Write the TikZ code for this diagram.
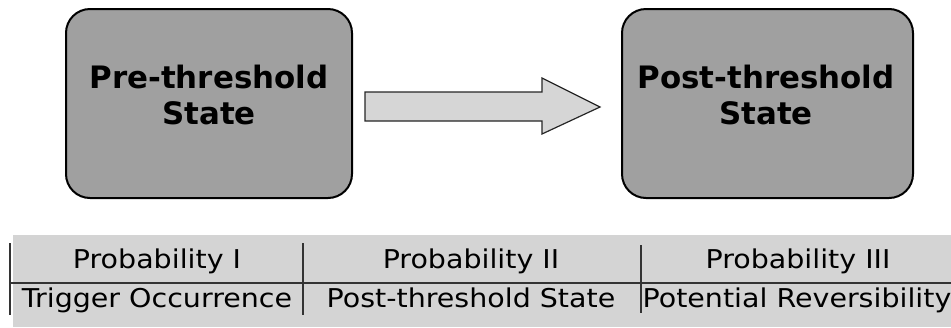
\documentclass[tikz,border=0pt]{standalone}
\usepackage{fontspec}
\setmainfont{DejaVu Sans}
\newfontfamily\cellfont[FakeStretch=1.1]{DejaVu Sans}
\begin{document}
\begin{tikzpicture}[x=1bp,y=-1bp,
  statebox/.style={draw=black, line width=2bp, rounded corners=24bp, fill=boxgray},
  statetext/.style={font=\fontsize{31}{37}\selectfont\bfseries, align=center, text=black},
  celltext/.style={font=\cellfont\fontsize{26}{30}\selectfont, text=black, anchor=base},
  rule/.style={draw=black!80, line width=1.2bp}]
\definecolor{boxgray}{RGB}{160,160,160}
\definecolor{tablegray}{RGB}{212,212,212}
\definecolor{arrowgray}{RGB}{214,214,214}
\useasboundingbox (0,0) rectangle (951,327);
% state boxes
\draw[statebox] (66,9) rectangle (352,198);
\draw[statebox] (622,9) rectangle (913,198);
\node[statetext] (pre) at (209,95) {Pre-threshold\\State};
\node[statetext] (post) at (766,95) {Post-threshold\\State};
% block arrow
\draw[fill=arrowgray, draw=black!85, line width=1.2bp]
  (365,92) -- (542,92) -- (542,78) -- (600,107) -- (542,134) -- (542,121) -- (365,121) -- cycle;
% table
\fill[tablegray] (13,235) rectangle (951,327);
\draw[rule] (10,243) -- (10,315);
\draw[rule] (303,243) -- (303,315);
\draw[rule] (641,245) -- (641,313);
\draw[rule] (10,283) -- (951,283);
\node[celltext] (p1) at (157,268) {Probability I};
\node[celltext] (p2) at (471,268) {Probability II};
\node[celltext] (p3) at (798,268) {Probability III};
\node[celltext] (d1) at (157,307) {Trigger Occurrence};
\node[celltext] (d2) at (471,307) {Post-threshold State};
\node[celltext] (d3) at (797,307) {Potential Reversibility};
\end{tikzpicture}
\end{document}
